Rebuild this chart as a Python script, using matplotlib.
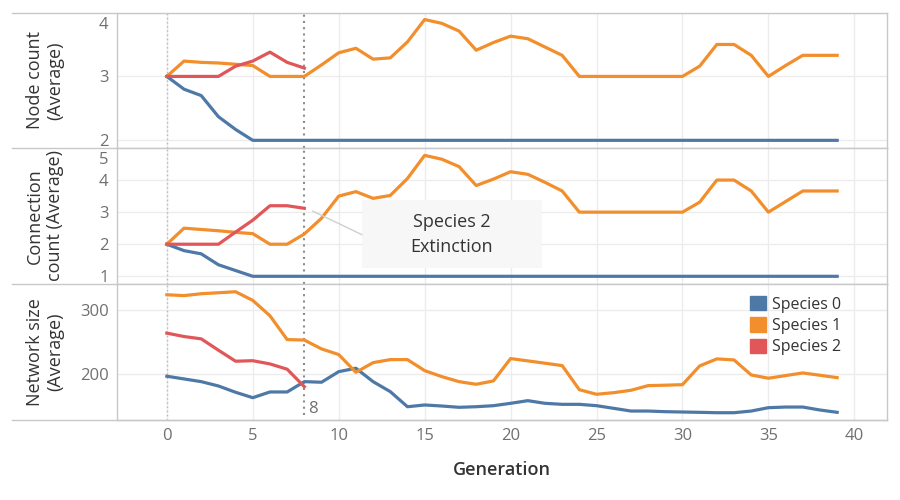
import matplotlib
matplotlib.use("Agg")
import matplotlib.pyplot as plt
from matplotlib.lines import Line2D
from matplotlib.patches import Patch, Rectangle
from matplotlib.transforms import blended_transform_factory, offset_copy

plt.rcParams['font.family'] = ['Open Sans', 'DejaVu Sans']

# data
generations = list(range(40))
species_names = ["Species 0", "Species 1", "Species 2"]
species_colors = ["#4e79a7", "#f28e2b", "#e15759"]

node_s0 = [3.0, 2.80, 2.70, 2.37, 2.17, 2.0, 2.0, 2.0, 2.0, 2.0, 2.0, 2.0, 2.0, 2.0, 2.0, 2.0, 2.0, 2.0, 2.0, 2.0,
           2.0, 2.0, 2.0, 2.0, 2.0, 2.0, 2.0, 2.0, 2.0, 2.0, 2.0, 2.0, 2.0, 2.0, 2.0, 2.0, 2.0, 2.0, 2.0, 2.0]
node_s1 = [3.0, 3.24, 3.22, 3.21, 3.19, 3.17, 3.0, 3.0, 3.0, 3.18, 3.37, 3.44, 3.27, 3.29, 3.54, 3.89, 3.83, 3.71, 3.41, 3.53,
           3.63, 3.59, 3.46, 3.33, 3.0, 3.0, 3.0, 3.0, 3.0, 3.0, 3.0, 3.16, 3.5, 3.5, 3.33, 3.0, 3.17, 3.33, 3.33, 3.33]
node_s2 = [3.0, 3.0, 3.0, 3.0, 3.16, 3.24, 3.38, 3.22, 3.13]

conn_s0 = [2.0, 1.80, 1.70, 1.36, 1.18, 1.0, 1.0, 1.0, 1.0, 1.0, 1.0, 1.0, 1.0, 1.0, 1.0, 1.0, 1.0, 1.0, 1.0, 1.0,
           1.0, 1.0, 1.0, 1.0, 1.0, 1.0, 1.0, 1.0, 1.0, 1.0, 1.0, 1.0, 1.0, 1.0, 1.0, 1.0, 1.0, 1.0, 1.0, 1.0]
conn_s1 = [2.0, 2.50, 2.46, 2.42, 2.37, 2.33, 2.0, 2.0, 2.32, 2.81, 3.5, 3.64, 3.43, 3.52, 4.05, 4.77, 4.65, 4.42, 3.83, 4.03,
           4.26, 4.18, 3.93, 3.66, 3.0, 3.0, 3.0, 3.0, 3.0, 3.0, 3.0, 3.31, 4.0, 4.0, 3.66, 3.0, 3.33, 3.66, 3.66, 3.66]
conn_s2 = [2.0, 2.0, 2.0, 2.0, 2.38, 2.75, 3.2, 3.2, 3.12]

size_s0 = [196.9, 192.7, 188.5, 181.8, 172.0, 163.6, 172.5, 172.5, 188.5, 187.6, 204.0, 209.3, 188.5, 173.0, 149.6, 152.3,
           150.7, 148.7, 149.6, 151.2, 154.9, 159.0, 154.9, 153.3, 153.3, 151.2, 147.1, 142.9, 142.9, 141.9, 141.4, 140.9,
           140.3, 140.3, 142.9, 148.1, 149.1, 149.1, 144.5, 140.9]
size_s1 = [323.3, 322.0, 324.9, 326.4, 328.0, 314.5, 290.7, 253.8, 253.0, 239.3, 230.5, 203.0, 218.0, 222.7, 222.7, 205.6,
           196.3, 188.5, 184.4, 189.6, 224.3, 220.7, 217.1, 213.4, 176.0, 168.9, 171.4, 175.1, 182.3, 183.0, 183.8, 212.9,
           223.8, 222.2, 198.9, 193.8, 197.9, 202.0, 198.4, 194.7]
size_s2 = [263.8, 258.5, 254.9, 237.3, 220.2, 221.0, 216.0, 207.8, 180.7]

extinction_gen = 8

panels = [
    ("Node count\n(Average)", [node_s0, node_s1, node_s2], (1.88, 4.0), [2, 3, 4]),
    ("Connection\ncount (Average)", [conn_s0, conn_s1, conn_s2], (0.76, 5.0), [1, 2, 3, 4, 5]),
    ("Network size\n(Average)", [size_s0, size_s1, size_s2], (129, 340), [200, 300]),
]

fig = plt.figure(figsize=(9, 5), dpi=100)
W, H = 900, 500
left, right = 117, 887
tops = [12.5, 148, 284, 420]
grid_c = "#ececec"
border_c = "#c8c8c8"
tick_c = "#707070"
text_c = "#333333"

axes = []
for i, (label, series, ylim, yticks) in enumerate(panels):
    ax = fig.add_axes([left / W, 1 - tops[i + 1] / H, (right - left) / W, (tops[i + 1] - tops[i]) / H])
    axes.append(ax)
    for s, vals in enumerate(series):
        ax.plot(generations[:len(vals)], vals, color=species_colors[s], lw=2.3, zorder=3)
    ax.set_xlim(-2.9, 41.9)
    ax.set_ylim(*ylim)
    ax.set_yticks(yticks)
    ax.set_xticks(range(0, 45, 5))
    ax.grid(True, color=grid_c, lw=1)
    ax.set_axisbelow(True)
    ax.tick_params(length=0, labelsize=12, labelcolor=tick_c, pad=6)
    for sp in ax.spines.values():
        sp.set_color(border_c)
        sp.set_linewidth(1)
    ax.spines['top'].set_visible(False)
    if i < 2:
        ax.tick_params(labelbottom=False)
    # the top tick sits on the edge: draw its label a bit inside
    if yticks[-1] >= ylim[1] - 0.01:
        labels = [str(t) for t in yticks[:-1]] + [""]
        ax.set_yticklabels(labels)
        tr = offset_copy(blended_transform_factory(ax.transAxes, ax.transData), fig=fig, x=-6, y=-3, units="points")
        ax.text(0, yticks[-1], str(yticks[-1]), transform=tr, ha="right", va="top", fontsize=12, color=tick_c)
    ax.axvline(0, color="#b8b8b8", lw=1, ls=(0, (1, 2)), zorder=2)
    fig.text(45 / W, 1 - (tops[i] + tops[i + 1]) / 2 / H, label, rotation=90, ha="center", va="center",
             fontsize=13, color=text_c, multialignment="center")

# separator lines across the header area
for y in tops:
    fig.add_artist(Line2D([12 / W, right / W], [1 - y / H, 1 - y / H], color=border_c, lw=1))

# extinction reference line
for i, ax in enumerate(axes):
    ymin = 0.04 if i == 2 else 0
    ax.axvline(extinction_gen, ymin=ymin, color="#8c8c8c", lw=1.5, ls=(0, (1, 2)), zorder=2)
axes[2].text(extinction_gen + 0.2, 133, str(extinction_gen), color=tick_c, fontsize=12, ha="left", va="bottom")

# annotation box
ax2 = axes[1]
ax2.add_patch(Rectangle((11.34, 1.27), 10.46, 2.11, fc="#f7f7f7", ec="none", zorder=4))
ax2.plot([8.5, 11.34], [3.03, 2.30], color="#cfcfcf", lw=1, zorder=4)
ax2.text(16.57, 2.30, "Species 2\nExtinction", ha="center", va="center", fontsize=13, color=text_c,
         linespacing=1.5, zorder=5)

axes[2].set_xlabel("Generation", fontsize=13, color=text_c, fontweight="semibold", labelpad=12)

handles = [Patch(color=c, label=n) for c, n in zip(species_colors, species_names)]
axes[2].legend(handles=handles, loc="upper left", bbox_to_anchor=(0.822, 0.912), frameon=False, fontsize=11.5,
               handlelength=1.0, handleheight=1.0, handletextpad=0.4, labelspacing=0.3, labelcolor=text_c,
               borderpad=0, borderaxespad=0)

fig.savefig("out.png", dpi=100)
